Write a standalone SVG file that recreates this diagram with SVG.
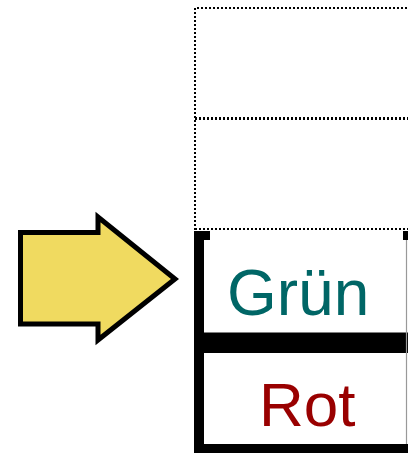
<svg xmlns="http://www.w3.org/2000/svg" width="408" height="453" viewBox="0 0 408 453">
  <style>
    .dot { fill: none; stroke: #000; stroke-width: 2; stroke-dasharray: 2 2; }
    .solid { fill: #000; }
    .lbl { font-family: "Liberation Sans", Arial, sans-serif; }
  </style>
  <rect width="408" height="453" fill="#fff"/>

  <!-- empty slots above the stack -->
  <g id="slot-top">
    <path class="dot" d="M195,230 V8 H410"/>
    <path class="dot" d="M195,118.5 H410" style="stroke-width:3"/>
  </g>
  <g id="slot-mid">
    <path class="dot" d="M195,229 H410"/>
  </g>

  <!-- current element -->
  <g id="box-gruen">
    <rect class="solid" x="194" y="231" width="16" height="9"/>
    <rect class="solid" x="403" y="231" width="5" height="9"/>
    <rect class="solid" x="194" y="231" width="10" height="222"/>
    <rect class="solid" x="204" y="332.5" width="204" height="20.5"/>
    <line x1="406.5" y1="240" x2="406.5" y2="444" stroke="#999" stroke-width="1.2"/>
    <text class="lbl" x="227" y="314.5" font-size="64" fill="#006666">Grün</text>
  </g>

  <g id="box-rot">
    <rect class="solid" x="194" y="444" width="214" height="9"/>
    <text class="lbl" x="259" y="425.5" font-size="62" fill="#990000">Rot</text>
  </g>

  <!-- pointer -->
  <g id="pointer">
    <polygon points="20.5,232.5 98,232.5 98,217 175,279 98,340 98,324 20.5,324" fill="#F0DA60" stroke="#000" stroke-width="5" stroke-linejoin="miter"/>
  </g>
</svg>
